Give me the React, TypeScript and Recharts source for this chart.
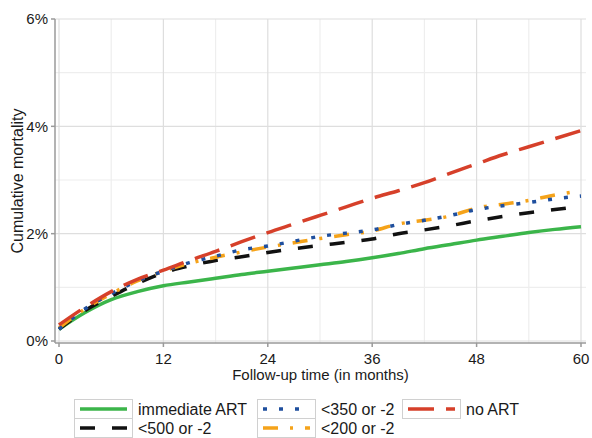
import React from "react";
import {
  LineChart,
  Line,
  XAxis,
  YAxis,
  CartesianGrid,
  Legend,
} from "recharts";

// follow-up time in months
const months = [0, 3, 6, 9, 12, 15, 18, 21, 24, 27, 30, 33, 36, 39, 42, 45, 48, 51, 54, 57, 60];

// cumulative mortality, %
const immediateArt = [0.22, 0.53, 0.77, 0.92, 1.03, 1.1, 1.17, 1.24, 1.3, 1.36, 1.42, 1.48, 1.55, 1.63, 1.72, 1.8, 1.88, 1.95, 2.02, 2.08, 2.13];
const below500 = [0.22, 0.57, 0.83, 1.07, 1.27, 1.4, 1.5, 1.57, 1.65, 1.72, 1.78, 1.84, 1.9, 2.0, 2.07, 2.15, 2.24, 2.32, 2.39, 2.45, 2.51];
const below350 = [0.22, 0.6, 0.88, 1.12, 1.3, 1.46, 1.58, 1.7, 1.77, 1.86, 1.95, 2.01, 2.07, 2.17, 2.25, 2.34, 2.45, 2.52, 2.58, 2.65, 2.7];
const below200 = [0.24, 0.6, 0.88, 1.12, 1.3, 1.45, 1.56, 1.66, 1.75, 1.83, 1.91, 1.98, 2.05, 2.18, 2.25, 2.33, 2.48, 2.55, 2.62, 2.72, 2.8];
const noArt = [0.3, 0.63, 0.92, 1.15, 1.32, 1.5, 1.67, 1.85, 2.02, 2.18, 2.34, 2.5, 2.66, 2.8, 2.95, 3.13, 3.3, 3.47, 3.62, 3.77, 3.92];

const xTicks = [0, 12, 24, 36, 48, 60];
const xMinor = [6, 18, 30, 42, 54];
const yTicks = [0, 2, 4, 6];
const yMinor = [1, 3, 5];

const data = months.map((m, i) => ({
  m,
  immediate: immediateArt[i],
  b500: below500[i],
  b350: below350[i],
  b200: below200[i],
  none: noArt[i],
}));

const FONT = "'Liberation Sans', Arial, sans-serif";
const FRAME = "#9a9a9a";

type Series = { key: string; name: string; color: string; dash?: string };

const series: Record<string, Series> = {
  immediate: { key: "immediate", name: "immediate ART", color: "#3bb54a" },
  b500: { key: "b500", name: "<500 or -2", color: "#111111", dash: "15 17" },
  b200: { key: "b200", name: "<200 or -2", color: "#f5a31a", dash: "15 12 3 12" },
  b350: { key: "b350", name: "<350 or -2", color: "#1f4f9e", dash: "4 12" },
  none: { key: "none", name: "no ART", color: "#d6402a", dash: "26 12" },
};

const drawOrder = ["immediate", "b500", "b200", "b350", "none"];

// legend grid, row by row
const legendRows = [
  ["immediate", "b350", "none"],
  ["b500", "b200"],
];
const legendCols = [74, 257, 402];

function LegendBox() {
  return (
    <div style={{ position: "relative", height: 55, fontFamily: FONT, fontSize: 16, color: "#1a1a1a" }}>
      {legendRows.map((row, r) =>
        row.map((k, c) => {
          const s = series[k];
          const left = legendCols[c];
          const top = 16 + r * 19;
          return (
            <React.Fragment key={k}>
              <svg
                width={59}
                height={20}
                style={{ position: "absolute", left, top }}
              >
                <rect x={0.5} y={0.5} width={58} height={19} fill="#fff" stroke="#d0d0d0" />
                <line
                  x1={6}
                  x2={53}
                  y1={10}
                  y2={10}
                  stroke={s.color}
                  strokeWidth={3.5}
                  strokeDasharray={s.dash}
                />
              </svg>
              <span
                style={{
                  position: "absolute",
                  left: left + 64,
                  top: top + 1,
                  lineHeight: "20px",
                  whiteSpace: "nowrap",
                }}
              >
                {s.name}
              </span>
            </React.Fragment>
          );
        })
      )}
    </div>
  );
}

function YLabel(props: any) {
  const vb = props.viewBox || {};
  const cx = 17;
  const cy = vb.y + vb.height / 2;
  return (
    <text
      x={cx}
      y={cy}
      transform={`rotate(-90, ${cx}, ${cy})`}
      textAnchor="middle"
      dominantBaseline="central"
      fontFamily={FONT}
      fontSize={16}
      fill="#1a1a1a"
    >
      Cumulative mortality
    </text>
  );
}

export default function App() {
  const tickStyle = { fill: "#1a1a1a", fontSize: 15, fontFamily: FONT };
  return (
    <div style={{ position: "absolute", left: 0, top: 0, background: "#fff" }}>
      <LineChart
        width={592}
        height={438}
        data={data}
        margin={{ top: 19, right: 6, bottom: 0, left: 0 }}
      >
        <CartesianGrid
          stroke="#eeeeee"
          strokeWidth={1.2}
          horizontalValues={yMinor}
          verticalValues={xMinor}
        />
        <CartesianGrid
          stroke="#dedede"
          strokeWidth={1.2}
          horizontalValues={yTicks}
          verticalValues={xTicks}
        />
        <XAxis
          dataKey="m"
          type="number"
          domain={[0, 60]}
          ticks={xTicks}
          padding={{ left: 4, right: 5 }}
          height={40}
          tickSize={4}
          tickMargin={6}
          stroke={FRAME}
          strokeWidth={1.5}
          tick={tickStyle}
          label={{
            value: "Follow-up time (in months)",
            position: "insideBottom",
            offset: 3,
            fill: "#1a1a1a",
            fontSize: 15,
            fontFamily: FONT,
          }}
        />
        <XAxis
          xAxisId="top"
          orientation="top"
          dataKey="m"
          type="number"
          domain={[0, 60]}
          height={0}
          tick={false}
          tickLine={false}
          stroke={FRAME}
          strokeWidth={1.5}
        />
        <YAxis
          domain={[0, 6]}
          ticks={yTicks}
          padding={{ top: 0, bottom: 2 }}
          width={55}
          tickSize={4}
          tickMargin={3}
          stroke={FRAME}
          strokeWidth={1.5}
          tick={tickStyle}
          tickFormatter={(v) => `${v}%`}
          label={<YLabel />}
        />
        <YAxis
          yAxisId="right"
          orientation="right"
          domain={[0, 6]}
          width={0}
          tick={false}
          tickLine={false}
          stroke={FRAME}
          strokeWidth={1.5}
        />
        <Legend verticalAlign="bottom" content={() => <LegendBox />} />
        {drawOrder.map((k) => {
          const s = series[k];
          return (
            <Line
              key={k}
              type="monotone"
              dataKey={s.key}
              name={s.name}
              stroke={s.color}
              strokeWidth={3.5}
              strokeDasharray={s.dash}
              dot={false}
              activeDot={false}
              isAnimationActive={false}
            />
          );
        })}
      </LineChart>
    </div>
  );
}
